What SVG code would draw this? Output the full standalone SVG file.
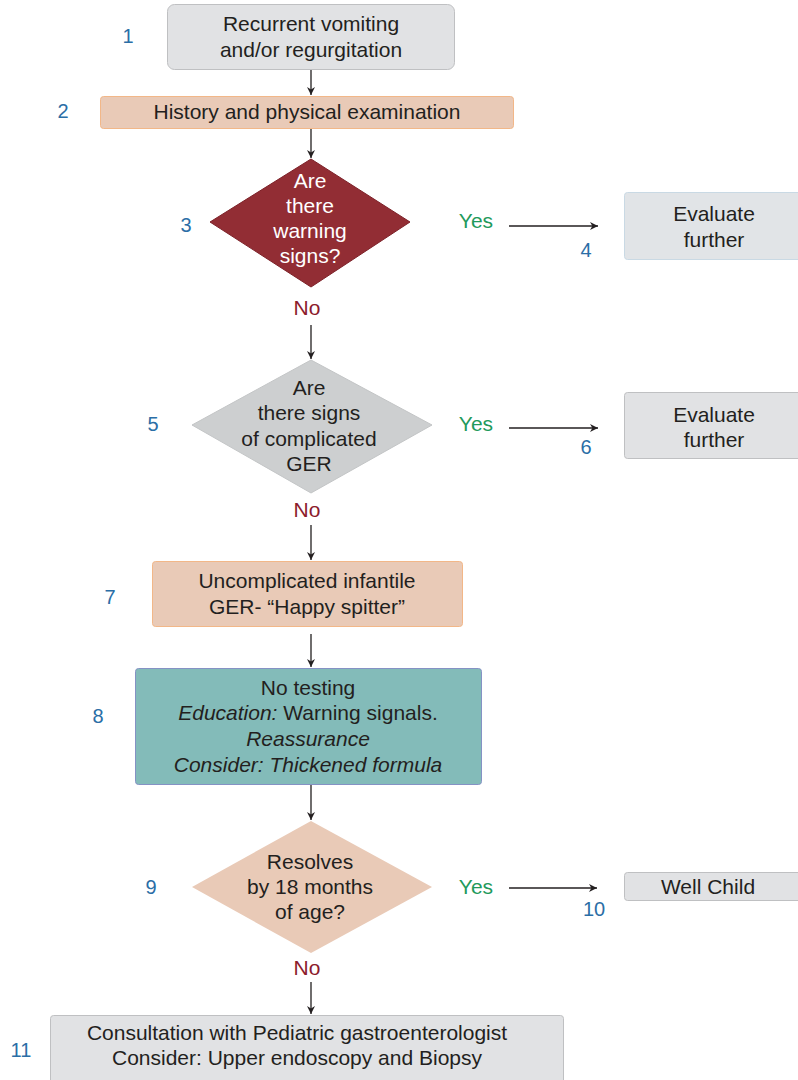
<svg xmlns="http://www.w3.org/2000/svg" width="798" height="1080" viewBox="0 0 798 1080">
<defs>
<style>
text{font-family:"Liberation Sans",Arial,sans-serif;font-size:21px;fill:#231f20;text-anchor:middle}
.num{fill:#2b6ea6;font-size:20px}
.yes{fill:#1f9a5c}
.no{fill:#8c1b2c}
.w{fill:#ffffff}
.grey{fill:#e1e2e4;stroke:#bfc0c2;stroke-width:1}
.peach{fill:#e9cab7;stroke:#f2b788;stroke-width:1}
.conn line{stroke:#231f20;stroke-width:1.3}
</style>
<marker id="ah" viewBox="0 0 10 10" refX="10" refY="5" markerWidth="8" markerHeight="8" markerUnits="userSpaceOnUse" orient="auto">
<path d="M0,0 L10,5 L0,10 L3,5 z" fill="#231f20"/>
</marker>
</defs>
<rect width="798" height="1080" fill="#ffffff"/>

<g class="conn">
<line x1="311" y1="70" x2="311" y2="95" marker-end="url(#ah)"/>
<line x1="311" y1="129" x2="311" y2="158" marker-end="url(#ah)"/>
<line x1="509" y1="226" x2="598" y2="226" marker-end="url(#ah)"/>
<line x1="311" y1="325" x2="311" y2="359" marker-end="url(#ah)"/>
<line x1="509" y1="428" x2="598" y2="428" marker-end="url(#ah)"/>
<line x1="311" y1="525" x2="311" y2="560" marker-end="url(#ah)"/>
<line x1="311" y1="634" x2="311" y2="667" marker-end="url(#ah)"/>
<line x1="311" y1="785" x2="311" y2="820" marker-end="url(#ah)"/>
<line x1="509" y1="888" x2="597" y2="888" marker-end="url(#ah)"/>
<line x1="311" y1="982" x2="311" y2="1014" marker-end="url(#ah)"/>
</g>

<g id="n1">
<rect x="167.5" y="4.5" width="287" height="65" rx="7" class="grey"/>
<text x="311" y="31">Recurrent vomiting</text>
<text x="311" y="57">and/or regurgitation</text>
<text class="num" x="128" y="43">1</text>
</g>

<g id="n2">
<rect x="100.5" y="96.5" width="413" height="32" rx="3" class="peach"/>
<text x="307" y="119">History and physical examination</text>
<text class="num" x="63" y="118">2</text>
</g>

<g id="n3">
<polygon points="311,159 410,222 311,287 210,222" fill="#922d34" stroke="#7d2229" stroke-width="1"/>
<text class="w" x="310" y="188">Are</text>
<text class="w" x="310" y="213">there</text>
<text class="w" x="310" y="238">warning</text>
<text class="w" x="310" y="263">signs?</text>
<text class="num" x="186" y="232">3</text>
<text class="yes" x="476" y="228">Yes</text>
<text class="no" x="307" y="315">No</text>
</g>

<g id="n4">
<rect x="624.5" y="192.5" width="180" height="67" rx="3" fill="#e1e4e7" stroke="#c9d9e4" stroke-width="1"/>
<text x="714" y="221">Evaluate</text>
<text x="714" y="247">further</text>
<text class="num" x="586" y="257">4</text>
</g>

<g id="n5">
<polygon points="311,360 432,425 311,493 192,425" fill="#cdcfd0" stroke="#c3c5c6" stroke-width="1"/>
<text x="309" y="395">Are</text>
<text x="309" y="420">there signs</text>
<text x="309" y="446">of complicated</text>
<text x="309" y="471">GER</text>
<text class="num" x="153" y="431">5</text>
<text class="yes" x="476" y="431">Yes</text>
<text class="no" x="307" y="517">No</text>
</g>

<g id="n6">
<rect x="624.5" y="392.5" width="180" height="66" rx="3" class="grey"/>
<text x="714" y="422">Evaluate</text>
<text x="714" y="447">further</text>
<text class="num" x="586" y="454">6</text>
</g>

<g id="n7">
<rect x="152.5" y="561.5" width="310" height="65" rx="3" class="peach"/>
<text x="307" y="588">Uncomplicated infantile</text>
<text x="307" y="614">GER- “Happy spitter”</text>
<text class="num" x="110" y="604">7</text>
</g>

<g id="n8">
<rect x="135.5" y="668.5" width="346" height="116" rx="3" fill="#83bbb9" stroke="#8592c4" stroke-width="1"/>
<text x="308" y="695">No testing</text>
<text x="308" y="720"><tspan font-style="italic">Education:</tspan> Warning signals.</text>
<text x="308" y="746" font-style="italic">Reassurance</text>
<text x="308" y="772" font-style="italic">Consider: Thickened formula</text>
<text class="num" x="98" y="723">8</text>
</g>

<g id="n9">
<polygon points="311,821 432,887 311,953 192,887" fill="#e9cab7"/>
<text x="310" y="869">Resolves</text>
<text x="310" y="894">by 18 months</text>
<text x="310" y="919">of age?</text>
<text class="num" x="151" y="894">9</text>
<text class="yes" x="476" y="894">Yes</text>
<text class="no" x="307" y="975">No</text>
</g>

<g id="n10">
<rect x="624.5" y="872.5" width="180" height="28" rx="3" class="grey"/>
<text x="708" y="894">Well Child</text>
<text class="num" x="594" y="916">10</text>
</g>

<g id="n11">
<rect x="50.5" y="1015.5" width="513" height="70" rx="3" class="grey"/>
<text x="297" y="1040">Consultation with Pediatric gastroenterologist</text>
<text x="297" y="1065">Consider: Upper endoscopy and Biopsy</text>
<text class="num" x="21" y="1057">11</text>
</g>
</svg>
